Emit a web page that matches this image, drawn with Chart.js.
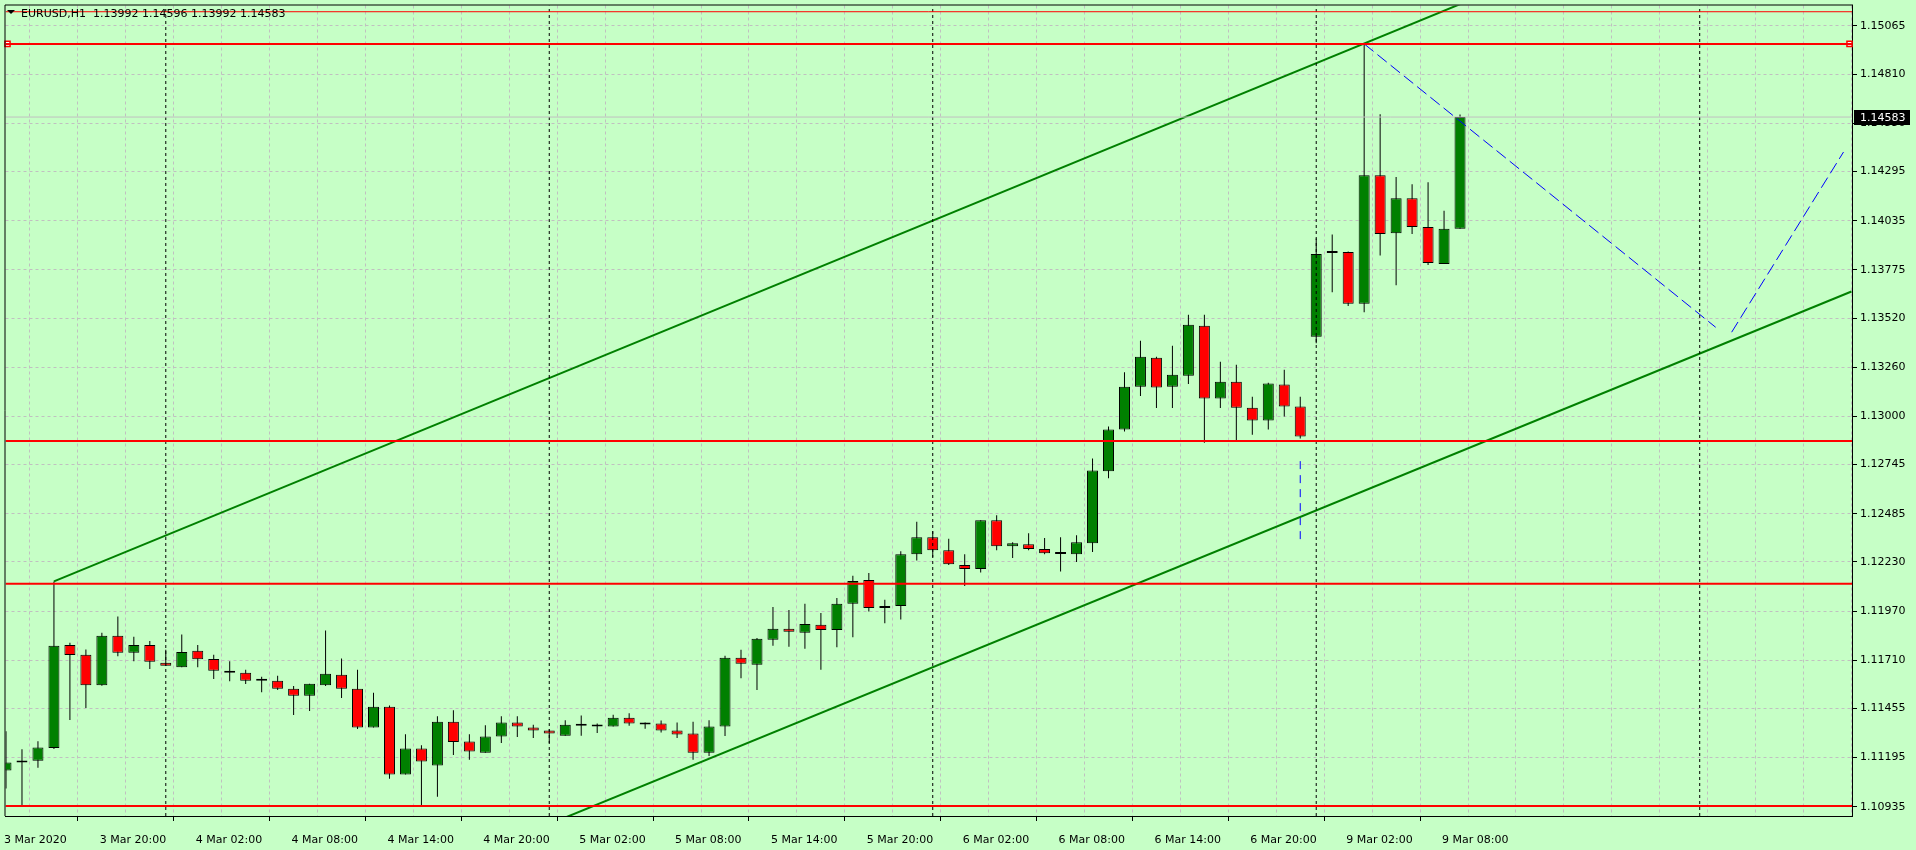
<!DOCTYPE html>
<html>
<head>
<meta charset="utf-8">
<title>EURUSD,H1</title>
<script src="https://cdn.jsdelivr.net/npm/chart.js@4.4.1/dist/chart.umd.min.js"></script>
<style>
  html, body { margin: 0; padding: 0; background: #c6ffc6; overflow: hidden; }
  canvas { display: block; }
</style>
</head>
<body>
<canvas id="chart" width="1916" height="850"></canvas>
<script>
// H1 bars, bar 0 = 3 Mar 2020 14:00, last bar = 9 Mar 09:00
const opens = [
  1.11127, 1.11169, 1.11178, 1.11246, 1.11791, 1.11739, 1.11578, 1.11839, 1.11749, 1.11791,
  1.11696, 1.11673, 1.11760, 1.11717, 1.11654, 1.11644, 1.11602, 1.11602, 1.11559, 1.11522,
  1.11578, 1.11633, 1.11559, 1.11354, 1.11464, 1.11106, 1.11243, 1.11153, 1.11385, 1.11280,
  1.11220, 1.11306, 1.11380, 1.11354, 1.11338, 1.11311, 1.11364, 1.11369, 1.11359, 1.11406,
  1.11375, 1.11375, 1.11338, 1.11322, 1.11220, 1.11359, 1.11723, 1.11686, 1.11818, 1.11876,
  1.11855, 1.11897, 1.11870, 1.12008, 1.12134, 1.11986, 1.11997, 1.12271, 1.12361, 1.12292,
  1.12213, 1.12192, 1.12450, 1.12313, 1.12324, 1.12298, 1.12275, 1.12271, 1.12329, 1.12709,
  1.12930, 1.13157, 1.13310, 1.13157, 1.13215, 1.13479, 1.13094, 1.13183, 1.13046, 1.12978,
  1.13168, 1.13052, 1.13421, 1.13864, 1.13869, 1.13595, 1.14275, 1.13969, 1.14154, 1.14001,
  1.13806, 1.13992
];
const highs = [
  1.11334, 1.11239, 1.11281, 1.12127, 1.11803, 1.11767, 1.11855, 1.11941, 1.11834, 1.11812,
  1.11765, 1.11846, 1.11791, 1.11739, 1.11705, 1.11660, 1.11623, 1.11628, 1.11573, 1.11586,
  1.11867, 1.11719, 1.11660, 1.11538, 1.11470, 1.11318, 1.11260, 1.11413, 1.11445, 1.11318,
  1.11366, 1.11413, 1.11413, 1.11369, 1.11345, 1.11392, 1.11417, 1.11375, 1.11422, 1.11429,
  1.11380, 1.11391, 1.11380, 1.11385, 1.11392, 1.11733, 1.11765, 1.11828, 1.11992, 1.11976,
  1.12008, 1.11960, 1.12039, 1.12157, 1.12171, 1.12030, 1.12287, 1.12442, 1.12392, 1.12352,
  1.12271, 1.12450, 1.12477, 1.12334, 1.12382, 1.12357, 1.12361, 1.12371, 1.12777, 1.12946,
  1.13233, 1.13400, 1.13315, 1.13373, 1.13537, 1.13537, 1.13289, 1.13273, 1.13104, 1.13178,
  1.13247, 1.13104, 1.13941, 1.13962, 1.13872, 1.14970, 1.14598, 1.14266, 1.14228, 1.14238,
  1.14087, 1.14596
];
const lows = [
  1.11032, 1.10939, 1.11141, 1.11240, 1.11394, 1.11457, 1.11575, 1.11731, 1.11705, 1.11663,
  1.11680, 1.11673, 1.11673, 1.11610, 1.11599, 1.11584, 1.11541, 1.11552, 1.11420, 1.11441,
  1.11573, 1.11510, 1.11346, 1.11354, 1.11083, 1.11106, 1.10939, 1.10988, 1.11209, 1.11183,
  1.11220, 1.11272, 1.11304, 1.11299, 1.11272, 1.11311, 1.11311, 1.11325, 1.11359, 1.11364,
  1.11348, 1.11327, 1.11299, 1.11183, 1.11204, 1.11309, 1.11615, 1.11552, 1.11786, 1.11781,
  1.11770, 1.11660, 1.11779, 1.11831, 1.11968, 1.11905, 1.11926, 1.12237, 1.12255, 1.12213,
  1.12102, 1.12174, 1.12292, 1.12250, 1.12292, 1.12271, 1.12179, 1.12229, 1.12282, 1.12672,
  1.12920, 1.13107, 1.13044, 1.13044, 1.13171, 1.12860, 1.13044, 1.12872, 1.12902, 1.12930,
  1.12999, 1.12883, 1.13387, 1.13656, 1.13584, 1.13550, 1.13851, 1.13693, 1.13964, 1.13800,
  1.13806, 1.13992
];
const closes = [
  1.11169, 1.11180, 1.11248, 1.11786, 1.11737, 1.11578, 1.11839, 1.11749, 1.11791, 1.11702,
  1.11681, 1.11754, 1.11715, 1.11654, 1.11644, 1.11602, 1.11601, 1.11559, 1.11522, 1.11586,
  1.11638, 1.11559, 1.11354, 1.11464, 1.11106, 1.11243, 1.11174, 1.11385, 1.11278, 1.11227,
  1.11306, 1.11380, 1.11359, 1.11338, 1.11322, 1.11369, 1.11367, 1.11359, 1.11406, 1.11375,
  1.11370, 1.11338, 1.11317, 1.11220, 1.11359, 1.11723, 1.11691, 1.11823, 1.11876, 1.11860,
  1.11902, 1.11870, 1.12008, 1.12129, 1.11986, 1.11997, 1.12271, 1.12361, 1.12292, 1.12218,
  1.12192, 1.12450, 1.12313, 1.12329, 1.12298, 1.12276, 1.12272, 1.12334, 1.12714, 1.12930,
  1.13157, 1.13315, 1.13152, 1.13220, 1.13484, 1.13094, 1.13183, 1.13046, 1.12978, 1.13173,
  1.13052, 1.12893, 1.13858, 1.13867, 1.13595, 1.14275, 1.13964, 1.14154, 1.14001, 1.13811,
  1.13992, 1.14583
];

// one time label every 6 bars
const timeLabels = [
  '3 Mar 2020', '3 Mar 20:00', '4 Mar 02:00', '4 Mar 08:00', '4 Mar 14:00', '4 Mar 20:00',
  '5 Mar 02:00', '5 Mar 08:00', '5 Mar 14:00', '5 Mar 20:00', '6 Mar 02:00', '6 Mar 08:00',
  '6 Mar 14:00', '6 Mar 20:00', '9 Mar 02:00', '9 Mar 08:00'
];
const yTickLabels = [
  '1.15065', '1.14810', '1.14550', '1.14295', '1.14035', '1.13775', '1.13520', '1.13260', '1.13000',
  '1.12745', '1.12485', '1.12230', '1.11970', '1.11710', '1.11455', '1.11195', '1.10935'
];

// drawn objects
const redLevels = [1.14970, 1.12869, 1.12115, 1.10939];
const thinRedLevel = 1.15140;
const bidPrice = 1.14583;
const daySeparators = [10, 34, 58, 82, 106];
const channelUpper = [[3, 1.12127], [115.5, 1.16030]];
const channelLower = [[3, 1.09772], [115.5, 1.13660]];
const blueDown = [[85, 1.14970], [107, 1.13471]];
const blueUp = [[108, 1.13445], [115, 1.14398]];
const blueVertical = [[81, 1.12763], [81, 1.12345]];
const levelMarkers = [[0.094, 1.14970], [115.375, 1.14970]];

const X_MIN = -0.03125, X_MAX = 115.53125;
const Y_MIN = 1.10886, Y_MAX = 1.15173;
const BG = '#c6ffc6';
const FONT = { family: 'DejaVu Sans', size: 11 };

const idx = opens.map((_, i) => i);

function seg(points, color, width, dash) {
    return {
        type: 'line',
        data: points.map(p => ({ x: p[0], y: p[1] })),
        borderColor: color,
        borderWidth: width,
        borderDash: dash || [],
        pointRadius: 0,
        tension: 0,
        order: 0
    };
}

const lineSets = [
    seg([[X_MIN, bidPrice], [X_MAX, bidPrice]], '#c0c0c0', 1),
    seg([[X_MIN, thinRedLevel], [X_MAX, thinRedLevel]], '#ff0000', 1),
    ...redLevels.map(l => seg([[X_MIN, l], [X_MAX, l]], '#ff0000', 2)),
    Object.assign(seg(daySeparators.flatMap(x => [[x, Y_MIN], [x, Y_MAX], [x, null]]), '#000000', 1, [3, 3]), { spanGaps: false }),
    seg(channelUpper, '#008000', 2),
    seg(channelLower, '#008000', 2),
    seg(blueDown, '#0000ff', 1, [12, 5]),
    seg(blueUp, '#0000ff', 1, [12, 5]),
    seg(blueVertical, '#0000ff', 1, [8, 6]),
    {
        type: 'line',
        data: levelMarkers.map(p => ({ x: p[0], y: p[1] })),
        showLine: false,
        pointStyle: 'rect',
        pointRadius: 3.6,
        pointBackgroundColor: '#ffffff',
        pointBorderColor: '#ff0000',
        pointBorderWidth: 1.5,
        clip: false,
        order: 0
    }
];

const frame = {
    id: 'frame',
    beforeDraw(chart) {
        const ctx = chart.ctx;
        ctx.save();
        ctx.fillStyle = BG;
        ctx.fillRect(0, 0, chart.width, chart.height);
        ctx.restore();
    },
    afterDraw(chart) {
        const { ctx, chartArea: a, scales } = chart;
        ctx.save();
        // top / left frame
        ctx.strokeStyle = '#000';
        ctx.lineWidth = 1;
        ctx.beginPath();
        ctx.moveTo(a.left - 0.5, a.bottom);
        ctx.lineTo(a.left - 0.5, a.top - 0.5);
        ctx.lineTo(a.right + 1, a.top - 0.5);
        ctx.stroke();

        // bid price label
        const py = Math.round(scales.y.getPixelForValue(bidPrice));
        ctx.fillStyle = '#000';
        ctx.fillRect(a.right + 2, py - 7, 56, 15);
        ctx.fillStyle = '#fff';
        ctx.font = '11px "DejaVu Sans"';
        ctx.textBaseline = 'middle';
        ctx.fillText(bidPrice.toFixed(5), a.right + 8, py + 1);

        // title
        const last = opens.length - 1;
        ctx.fillStyle = '#000';
        ctx.beginPath();
        ctx.moveTo(7, 10);
        ctx.lineTo(15, 10);
        ctx.lineTo(11, 14);
        ctx.closePath();
        ctx.fill();
        ctx.textBaseline = 'alphabetic';
        ctx.fillText('EURUSD,H1', 21, 17);
        ctx.fillText([opens[last], highs[last], lows[last], closes[last]].map(v => v.toFixed(5)).join(' '), 93, 17);
        ctx.restore();
    }
};

const xTicks = [];
for (let v = 0; v <= 114; v += 3) xTicks.push(v);

new Chart(document.getElementById('chart'), {
    type: 'bar',
    data: {
        datasets: [
            ...lineSets,
            {
                data: idx.map(i => ({ x: i, y: [opens[i], closes[i]] })),
                backgroundColor: idx.map(i => closes[i] >= opens[i] ? '#008000' : '#ff0000'),
                borderColor: '#000',
                borderWidth: 1,
                borderSkipped: false,
                barThickness: 11,
                minBarLength: 2,
                inflateAmount: 0,
                grouped: false,
                order: 1
            },
            {
                data: idx.map(i => ({ x: i, y: [lows[i], highs[i]] })),
                backgroundColor: '#000',
                borderWidth: 0,
                barThickness: 1,
                inflateAmount: 0,
                grouped: false,
                order: 2
            }
        ]
    },
    options: {
        responsive: false,
        devicePixelRatio: 1,
        animation: false,
        layout: { padding: { left: 3, top: 3, right: 0, bottom: 0 } },
        plugins: { legend: { display: false }, tooltip: { enabled: false } },
        scales: {
            x: {
                type: 'linear',
                min: X_MIN,
                max: X_MAX,
                offset: false,
                afterBuildTicks: s => { s.ticks = xTicks.map(v => ({ value: v })); },
                afterFit: s => { s.height = 34; s.paddingLeft = 0; s.paddingRight = 0; },
                grid: {
                    color: c => (c.tick && c.tick.value === 0) ? 'transparent' : '#c0c0c0',
                    tickColor: c => (c.tick && c.tick.value % 6 === 0 && c.tick.value / 6 < timeLabels.length) ? '#000' : 'transparent',
                    tickLength: 5,
                    tickBorderDash: []
                },
                border: { display: true, color: '#000', width: 1, dash: [3, 3] },
                ticks: {
                    callback: v => (v % 6 === 0 && timeLabels[v / 6]) || '',
                    align: 'start',
                    labelOffset: -2,
                    padding: 13,
                    maxRotation: 0,
                    minRotation: 0,
                    autoSkip: false,
                    color: '#000',
                    font: FONT
                }
            },
            y: {
                type: 'linear',
                position: 'right',
                min: Y_MIN,
                max: Y_MAX,
                afterBuildTicks: s => { s.ticks = yTickLabels.map(t => ({ value: parseFloat(t) })); },
                afterFit: s => { s.width = 64; s.paddingTop = 0; s.paddingBottom = 0; },
                grid: { color: '#c0c0c0', tickColor: '#000', tickLength: 5, tickBorderDash: [] },
                border: { display: true, color: '#000', width: 1, dash: [3, 3] },
                ticks: {
                    callback: (v, i) => yTickLabels[i],
                    padding: 3,
                    color: '#000',
                    font: FONT
                }
            }
        }
    },
    plugins: [frame]
});
</script>
</body>
</html>
